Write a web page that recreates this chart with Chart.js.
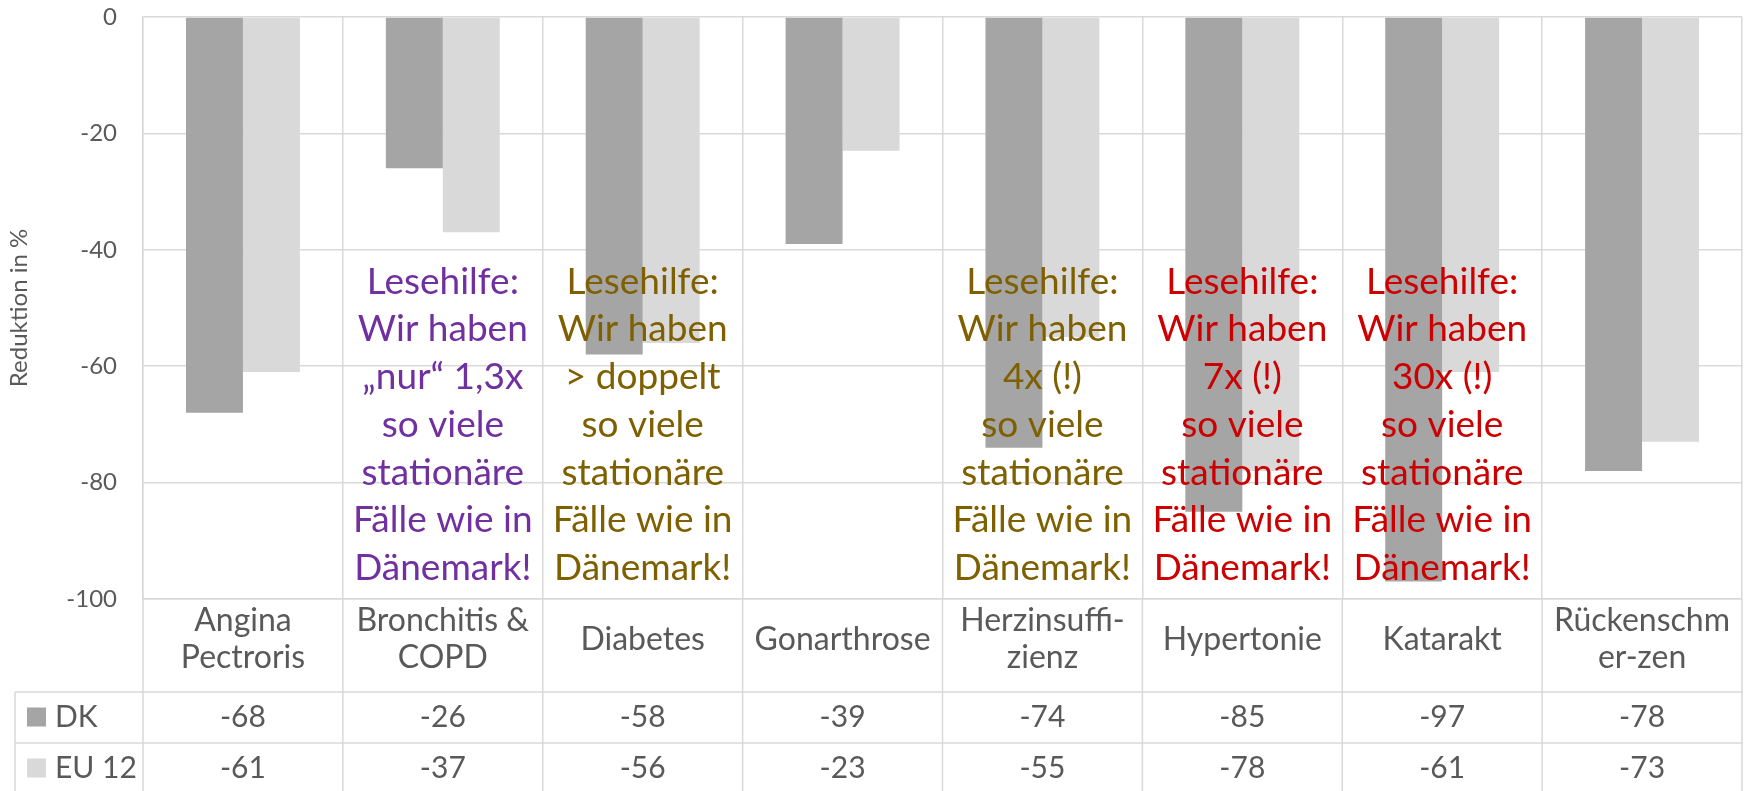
<!DOCTYPE html>
<html>
<head>
<meta charset="utf-8">
<script src="https://cdn.jsdelivr.net/npm/chart.js@4.4.0/dist/chart.umd.min.js"></script>
<style>
  html, body { margin: 0; padding: 0; background: #fff; }
  #wrap { width: 1746px; height: 791px; position: relative; }
</style>
</head>
<body>
<div id="wrap"><canvas id="chart"></canvas></div>
<script>
// Reduktion stationärer Fälle, DK vs. EU 12
const categories = [['Angina', 'Pectroris'], ['Bronchitis &', 'COPD'], 'Diabetes', 'Gonarthrose',
  ['Herzinsuffi-', 'zienz'], 'Hypertonie', 'Katarakt', ['Rückenschm', 'er-zen']];
const dkValues = [-68, -26, -58, -39, -74, -85, -97, -78];
const euValues = [-61, -37, -56, -23, -55, -78, -61, -73];
const yTicks = [0, -20, -40, -60, -80, -100];
const seriesNames = ['DK', 'EU 12'];

// "Lesehilfe" notes over some categories
const noteCategories = [1, 2, 4, 5, 6];
const noteFactors = ['„nur“ 1,3x', '> doppelt', '4x (!)', '7x (!)', '30x (!)'];
const noteColors = ['#7030A0', '#7F6000', '#7F6000', '#CC0000', '#CC0000'];

const FONT = 'Lato, "Open Sans", sans-serif';
const TEXT = '#595959';
const GRID = '#D9D9D9';
const ROW_H = 51;

const tablePlugin = {
  id: 'dataTable',
  afterDatasetsDraw(chart) {
    // notes are drawn on top of the bars
    const { ctx } = chart;
    const x = chart.scales.x, y = chart.scales.y;
    ctx.save();
    ctx.font = '37px ' + FONT;
    ctx.textAlign = 'center';
    ctx.textBaseline = 'middle';
    noteCategories.forEach((c, i) => {
      const lines = ['Lesehilfe:', 'Wir haben', noteFactors[i], 'so viele', 'stationäre', 'Fälle wie in', 'Dänemark!'];
      const cx = x.getPixelForValue(c);
      const top = y.getPixelForValue(-45.5);
      ctx.fillStyle = noteColors[i];
      lines.forEach((l, j) => ctx.fillText(l, cx, top + j * 47.7));
    });
    ctx.restore();
  },
  afterDraw(chart) {
    const { ctx } = chart;
    const x = chart.scales.x;
    const area = chart.chartArea;
    const tableTop = x.bottom;
    const left = 15;
    const bottom = chart.height;
    const step = (area.right - area.left) / categories.length;
    ctx.save();
    ctx.strokeStyle = GRID;
    ctx.lineWidth = 1.5;
    ctx.beginPath();
    for (let i = 0; i <= categories.length; i++) {
      const px = area.left + i * step;
      ctx.moveTo(px, area.bottom);
      ctx.lineTo(px, bottom);
    }
    ctx.moveTo(left, tableTop);
    ctx.lineTo(left, bottom);
    ctx.moveTo(left, tableTop);
    ctx.lineTo(area.right, tableTop);
    ctx.moveTo(left, tableTop + ROW_H);
    ctx.lineTo(area.right, tableTop + ROW_H);
    ctx.stroke();

    ctx.font = '30px ' + FONT;
    ctx.textBaseline = 'middle';
    chart.data.datasets.forEach((ds, r) => {
      const cy = tableTop + ROW_H * r + ROW_H / 2;
      ctx.fillStyle = ds.backgroundColor;
      ctx.fillRect(27, cy - 10, 19, 19);
      ctx.fillStyle = TEXT;
      ctx.textAlign = 'left';
      ctx.fillText(ds.label, 55, cy);
      ctx.textAlign = 'center';
      ds.data.forEach((v, i) => ctx.fillText(String(v), x.getPixelForValue(i), cy));
    });
    ctx.restore();
  }
};

new Chart(document.getElementById('chart'), {
  type: 'bar',
  data: {
    labels: categories,
    datasets: [
      { label: seriesNames[0], data: dkValues, backgroundColor: '#A5A5A5', borderWidth: 0 },
      { label: seriesNames[1], data: euValues, backgroundColor: '#D9D9D9', borderWidth: 0 }
    ]
  },
  options: {
    responsive: true,
    maintainAspectRatio: false,
    animation: false,
    layout: { padding: { top: 17, right: 4, bottom: 99, left: 0 } },
    datasets: { bar: { categoryPercentage: 0.57, barPercentage: 1.0 } },
    plugins: { legend: { display: false }, tooltip: { enabled: false } },
    scales: {
      x: {
        grid: { color: GRID, lineWidth: 1.5, offset: true, drawTicks: false },
        border: { color: GRID, width: 1.5 },
        ticks: {
          color: TEXT, font: { family: FONT, size: 32, lineHeight: 1.16 },
          maxRotation: 0, minRotation: 0, autoSkip: false, crossAlign: 'center', padding: 22
        },
        afterFit: s => { s.height = 93; s.paddingLeft = 0; s.paddingRight = 0; }
      },
      y: {
        min: -100, max: 0,
        grid: { color: GRID, lineWidth: 1.5, drawTicks: false },
        border: { color: GRID, width: 1.5 },
        ticks: { color: TEXT, font: { family: FONT, size: 24 }, padding: 26 },
        afterBuildTicks: s => { s.ticks = yTicks.map(v => ({ value: v })); },
        title: {
          display: true, text: 'Reduktion in %', color: TEXT,
          font: { family: FONT, size: 24 }, padding: { top: 5, bottom: 0 }
        },
        afterFit: s => { s.width = 143; s.paddingTop = 0; s.paddingBottom = 0; }
      }
    }
  },
  plugins: [tablePlugin]
});
</script>
</body>
</html>
